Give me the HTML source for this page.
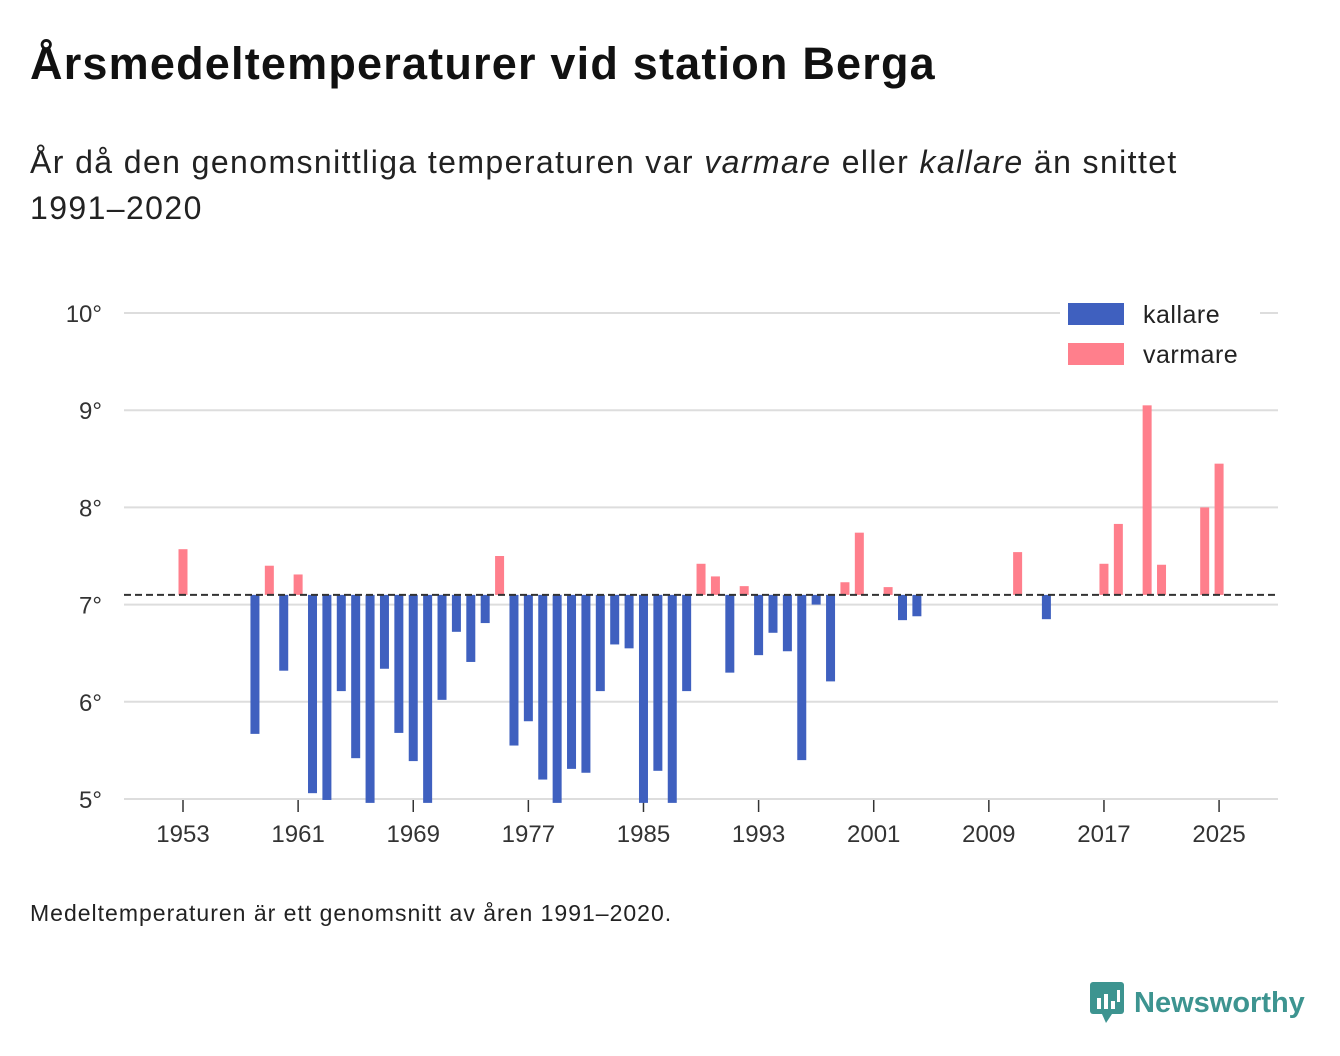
<!DOCTYPE html>
<html><head><meta charset="utf-8">
<style>
body{margin:0;width:1340px;height:1056px;background:#fff;font-family:"Liberation Sans","DejaVu Sans",sans-serif;color:#111;overflow:hidden;position:relative}
#title{position:absolute;left:30px;top:38px;font-size:45px;letter-spacing:1.2px;font-weight:bold;margin:0;white-space:nowrap}
#sub{position:absolute;left:30px;top:139px;font-size:32px;letter-spacing:1.4px;line-height:46px;width:1300px;color:#222}
#note{position:absolute;left:30px;top:900px;font-size:23px;letter-spacing:1px;color:#222;white-space:nowrap}
#logo{position:absolute;left:1090px;top:982px;font-size:29px;font-weight:bold;color:#3d9490;display:flex;align-items:center;gap:8px}
svg{position:absolute;left:0;top:0}
</style></head><body>
<h1 id="title">Årsmedeltemperaturer vid station Berga</h1>
<div id="sub">År då den genomsnittliga temperaturen var <i>varmare</i> eller <i>kallare</i> än snittet<br>1991–2020</div>
<svg id="chart" width="1340" height="1056"></svg>
<div id="note">Medeltemperaturen är ett genomsnitt av åren 1991–2020.</div>
<div id="logo"><svg style="position:static" width="36" height="42" viewBox="0 0 36 42"><rect x="0" y="0" width="34" height="32" rx="3" fill="#3d9490"/><polygon points="12,32 22,32 16,41" fill="#3d9490"/><rect x="7" y="16" width="4" height="11" fill="#fff"/><rect x="14" y="12" width="4" height="15" fill="#fff"/><rect x="21" y="19" width="4" height="8" fill="#fff"/><rect x="27" y="8" width="3" height="12" fill="#fff"/></svg><span>Newsworthy</span></div>
<script>
const years=[1953,1959,1961,1975,1989,1990,1992,1999,2000,2002,2011,2017,2018,2020,2021,2024,2025,
1958,1960,1962,1963,1964,1965,1966,1967,1968,1969,1970,1971,1972,1973,1974,1976,1977,1978,1979,1980,1981,1982,1983,1984,1985,1986,1987,1988,1991,1993,1994,1995,1996,1997,1998,2003,2004,2013];
const temps=[7.57,7.40,7.31,7.50,7.42,7.29,7.19,7.23,7.74,7.18,7.54,7.42,7.83,9.05,7.41,8.0,8.45,
5.67,6.32,5.06,4.99,6.11,5.42,4.96,6.34,5.68,5.39,4.96,6.02,6.72,6.41,6.81,5.55,5.80,5.20,4.96,5.31,5.27,6.11,6.59,6.55,4.96,5.29,4.96,6.11,6.30,6.48,6.71,6.52,5.40,7.0,6.21,6.84,6.88,6.85];
const baseline=7.1;
const yTicks=[5,6,7,8,9,10];
const xTicks=[1953,1961,1969,1977,1985,1993,2001,2009,2017,2025];
const ns="http://www.w3.org/2000/svg";
const svg=document.getElementById('chart');
const y=v=>799-(v-5)*97.2;
const x=yr=>183+(yr-1953)*14.39;
function mk(t,a){const e=document.createElementNS(ns,t);for(const k in a)e.setAttribute(k,a[k]);svg.appendChild(e);return e;}
yTicks.forEach(v=>{
 const g=mk('line',{x1:124,x2:1278,y1:y(v),y2:y(v),stroke:'#ddd','stroke-width':2});
 
 
 const t=mk('text',{x:102,y:y(v)+9,'text-anchor':'end','font-size':24,fill:'#333','font-family':'Liberation Sans, sans-serif'});
 t.textContent=v+'°';
 
 
});
xTicks.forEach(v=>{
 const l=mk('line',{x1:x(v),x2:x(v),y1:800,y2:812,stroke:'#333','stroke-width':1.5});
 
 
 const t=mk('text',{x:x(v),y:842,'text-anchor':'middle','font-size':24,fill:'#333','font-family':'Liberation Sans, sans-serif'});
 t.textContent=v;
 
 
});
years.forEach((yr,i)=>{
 const v=temps[i];const warm=v>baseline;
 const top=y(Math.max(v,baseline)),bot=y(Math.min(v,baseline));
 const r=mk('rect',{x:x(yr)-4.5,y:top,width:9,height:bot-top,fill:warm?'#ff7f8c':'#3f60bf'});
 
 
});
const bl=mk('line',{x1:124,x2:1278,y1:y(baseline),y2:y(baseline),stroke:'#333','stroke-width':2,'stroke-dasharray':'7,4'});


const lb=mk('rect',{x:1060,y:292,width:200,height:86,fill:'#fff'});


[['kallare','#3f60bf',314],['varmare','#ff7f8c',354]].forEach(([n,c,cy])=>{
 const r=mk('rect',{x:1068,y:cy-11,width:56,height:22,fill:c});
 
 
 const t=mk('text',{x:1143,y:cy+9,'font-size':25,'letter-spacing':0.5,fill:'#222','font-family':'Liberation Sans, sans-serif'});
 t.textContent=n;
 
 
});
</script>
</body></html>
